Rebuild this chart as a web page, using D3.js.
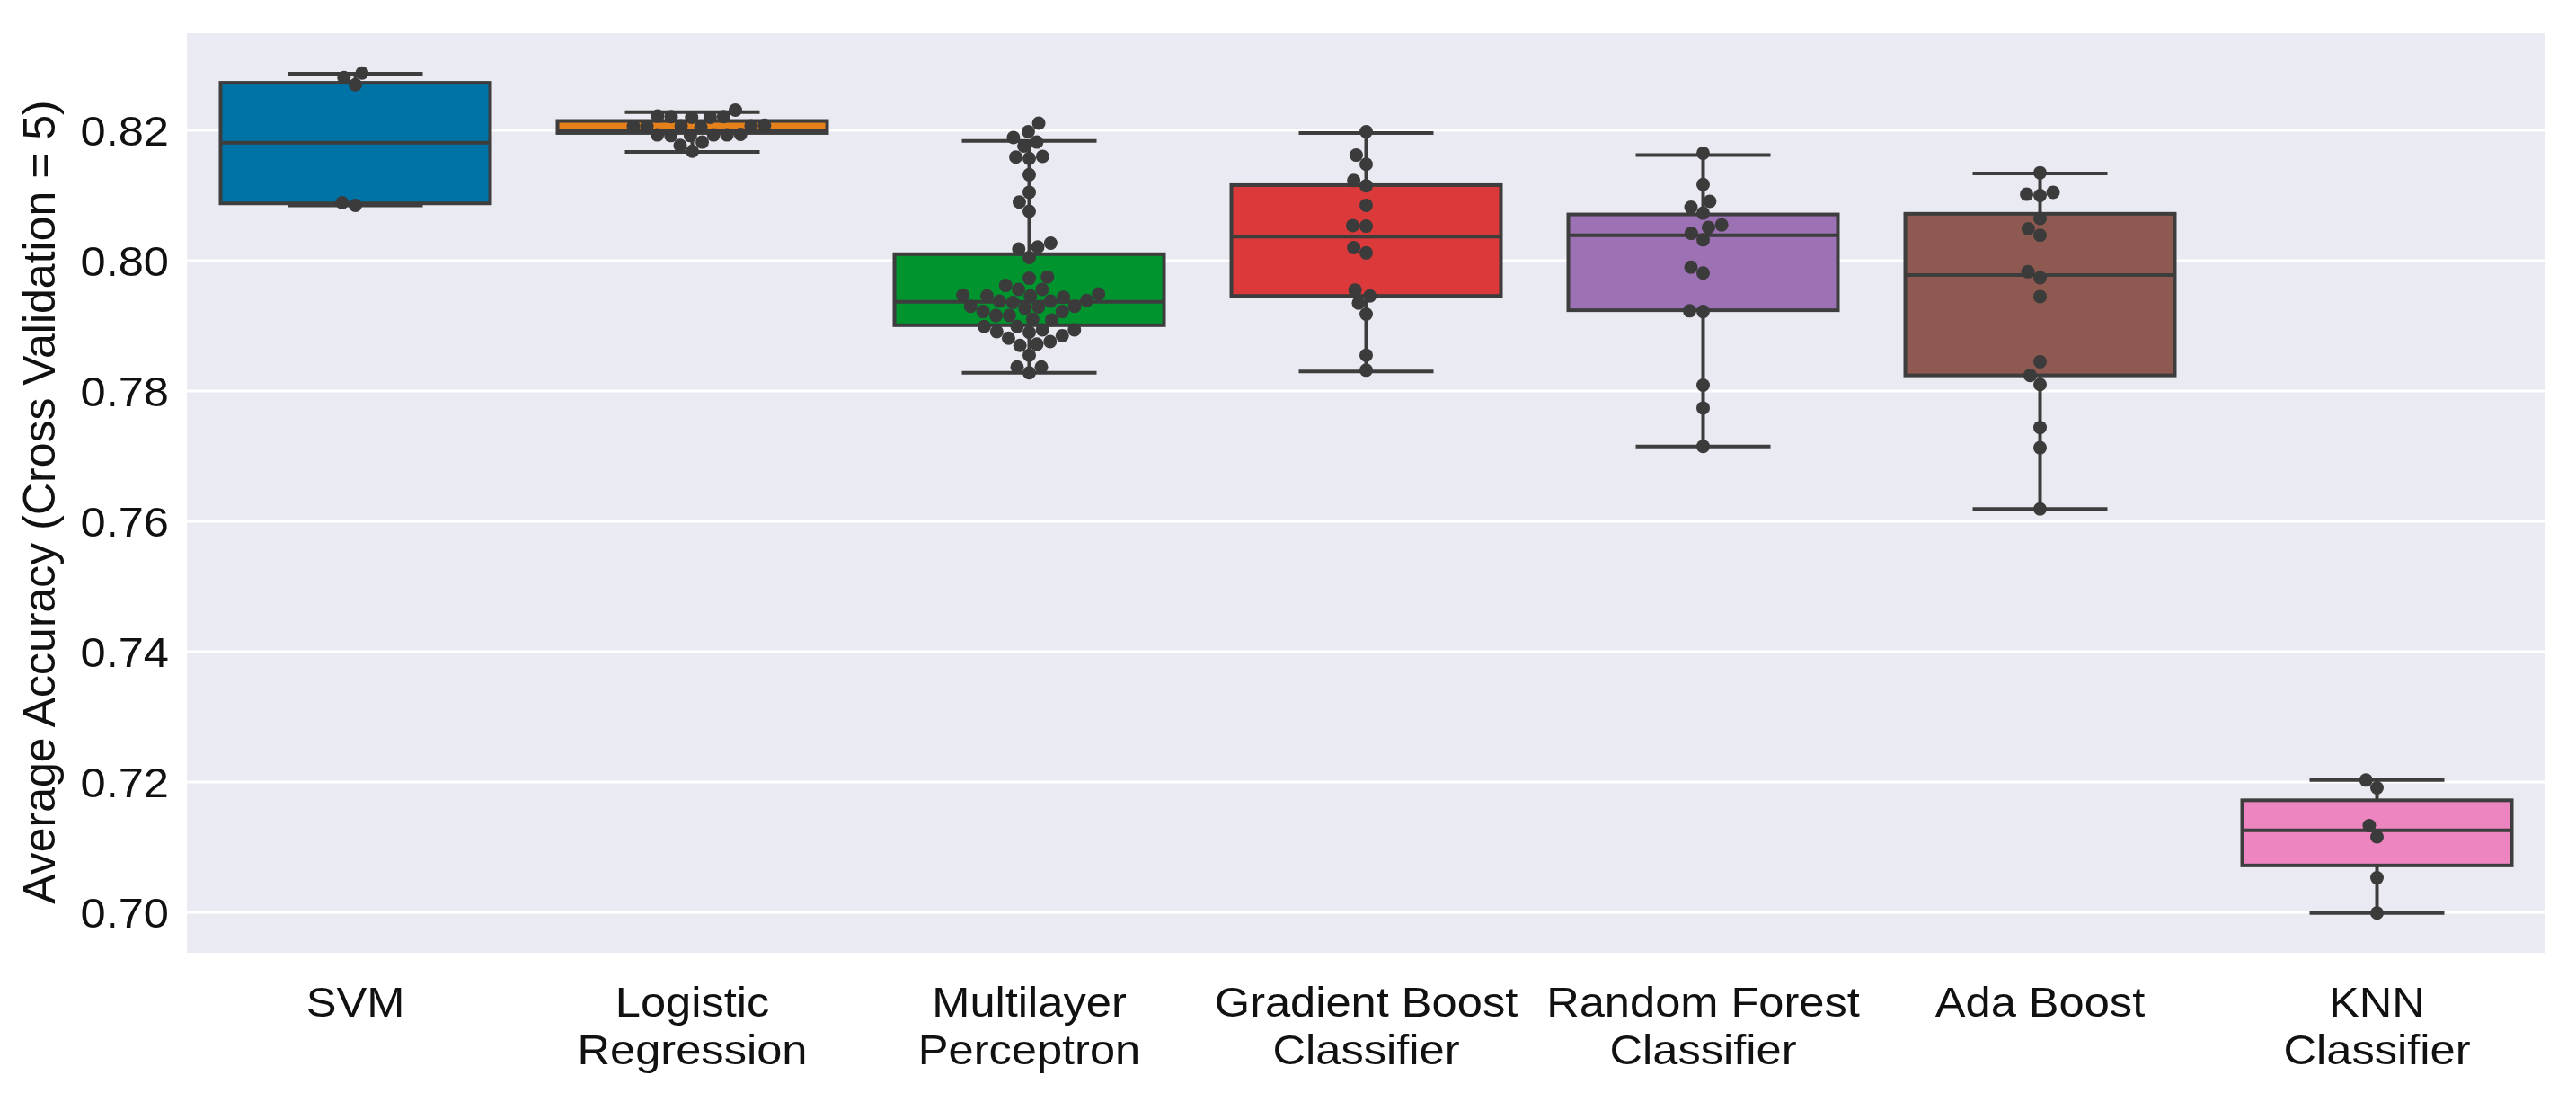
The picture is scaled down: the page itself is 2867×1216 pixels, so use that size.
<!DOCTYPE html>
<html>
<head>
<meta charset="utf-8">
<script src="https://cdn.jsdelivr.net/npm/d3@7"></script>
<style>
  html, body { margin: 0; padding: 0; background: #ffffff; }
  svg { display: block; }
  text { font-family: "Liberation Sans", Arial, Helvetica, sans-serif; fill: #111111; }
</style>
</head>
<body>
<svg id="chart" width="2867" height="1216"></svg>
<script>
// ---------------- data ----------------
const categories = ["SVM", "Logistic Regression", "Multilayer Perceptron",
  "Gradient Boost Classifier", "Random Forest Classifier", "Ada Boost", "KNN Classifier"];
const tickLabelLines = [["SVM"], ["Logistic", "Regression"], ["Multilayer", "Perceptron"],
  ["Gradient Boost", "Classifier"], ["Random Forest", "Classifier"], ["Ada Boost"], ["KNN", "Classifier"]];
const yTicks = [0.70, 0.72, 0.74, 0.76, 0.78, 0.80, 0.82];
const yLabel = "Average Accuracy (Cross Validation = 5)";

// box statistics per category
const whiskerLow  = [0.8085, 0.8167, 0.7828, 0.7830, 0.7715, 0.7619, 0.6999];
const q1          = [0.8088, 0.8196, 0.7901, 0.7946, 0.7924, 0.7824, 0.7072];
const median      = [0.8181, 0.8200, 0.7937, 0.8037, 0.8039, 0.7978, 0.7126];
const q3          = [0.8273, 0.82145, 0.8010, 0.8116, 0.8071, 0.8072, 0.7172];
const whiskerHigh = [0.8287, 0.8228, 0.8184, 0.8196, 0.8162, 0.8134, 0.7203];

// individual cross-validation scores (swarm points)
const svmScores = [0.8288, 0.8281, 0.8270, 0.8089, 0.8085];
const lrScores = [0.8231, 0.8222, 0.8221, 0.8221, 0.8220, 0.8220,
  0.8208, 0.8207, 0.8207, 0.8206, 0.8206, 0.8205,
  0.8194, 0.8193, 0.8193, 0.8193, 0.8192, 0.8192, 0.8182, 0.8177, 0.8168];
const mlpScores = [0.8211, 0.8198, 0.8189, 0.8182, 0.8176, 0.8159, 0.8157, 0.8160, 0.8132,
  0.8105, 0.8090, 0.8076, 0.8018, 0.8021, 0.8027, 0.8005,
  0.7973, 0.7975, 0.7962, 0.7956, 0.7956, 0.7949, 0.7947, 0.7946, 0.7946, 0.7939, 0.7944,
  0.7938, 0.7936, 0.7938, 0.7930, 0.7929, 0.7930, 0.7927, 0.7922, 0.7922, 0.7916, 0.7916,
  0.7910, 0.7909, 0.7899, 0.7899, 0.7891, 0.7894, 0.7894, 0.7890, 0.7885, 0.7881,
  0.7870, 0.7872, 0.7876, 0.7855, 0.7837, 0.7837, 0.7828];
const gbScores = [0.8198, 0.8162, 0.8148, 0.8123, 0.8115, 0.8085, 0.8054, 0.8053,
  0.8020, 0.8012, 0.7955, 0.7946, 0.7935, 0.7918, 0.7855, 0.7832];
const rfScores = [0.8165, 0.8117, 0.8091, 0.8082, 0.8073, 0.8055, 0.8051, 0.8042,
  0.8032, 0.7990, 0.7981, 0.7923, 0.7922, 0.7809, 0.7774, 0.7715];
const adaScores = [0.8135, 0.8105, 0.8102, 0.8100, 0.8065, 0.8049, 0.8039, 0.7983,
  0.7974, 0.7945, 0.7845, 0.7824, 0.7810, 0.7744, 0.7713, 0.7619];
const knnScores = [0.7203, 0.7191, 0.7133, 0.7116, 0.7053, 0.6999];
const scores = [svmScores, lrScores, mlpScores, gbScores, rfScores, adaScores, knnScores];

// ---------------- style ----------------
const palette = ["#0073a6", "#e6801a", "#00942f", "#dc3a3a", "#9d72b5", "#8d5950", "#ed85c0"];
const lineColor = "#3d3d3d";
const plotBg = "#e9eaf2";
const W = 2867, H = 1216;
const margin = { left: 208, right: W - 2833, top: 37, bottom: H - 1060 };

const svg = d3.select("#chart");
const x = d3.scaleBand().domain(categories).range([margin.left, W - margin.right]).padding(0);
const y = d3.scaleLinear().domain([0.6938, 0.8349]).range([H - margin.bottom, margin.top]);

// plot background
svg.append("rect")
  .attr("x", margin.left).attr("y", margin.top)
  .attr("width", W - margin.left - margin.right)
  .attr("height", H - margin.top - margin.bottom)
  .attr("fill", plotBg);

// gridlines
svg.append("g").selectAll("line").data(yTicks).join("line")
  .attr("x1", margin.left).attr("x2", W - margin.right)
  .attr("y1", d => y(d)).attr("y2", d => y(d))
  .attr("stroke", "#ffffff").attr("stroke-width", 3);

// y axis (labels only)
const yAxis = svg.append("g")
  .attr("transform", `translate(${margin.left},0)`)
  .call(d3.axisLeft(y).tickValues(yTicks).tickFormat(d3.format(".2f")).tickSize(0).tickPadding(20));
yAxis.select(".domain").remove();
yAxis.selectAll("text")
  .attr("font-size", 46)
  .attr("fill", "#111111")
  .attr("font-family", "Liberation Sans, Arial, sans-serif")
  .attr("dy", "0.36em")
  .each(function () {
    const t = d3.select(this);
    const xx = +t.attr("x");
    t.attr("x", null).attr("transform", `translate(${xx},0) scale(1.1,1)`);
  });

// y title
svg.append("text")
  .attr("transform", `translate(61, ${(margin.top + H - margin.bottom) / 2 + 10}) rotate(-90)`)
  .attr("text-anchor", "middle")
  .attr("font-size", 50)
  .text(yLabel);

// x labels
const xl = svg.append("g");
categories.forEach((c, i) => {
  const cx = x(c) + x.bandwidth() / 2;
  const t = xl.append("text")
    .attr("text-anchor", "middle")
    .attr("font-size", 46)
    .attr("transform", `translate(${cx},1131) scale(1.1,1)`);
  tickLabelLines[i].forEach((ln, j) => {
    t.append("tspan").attr("x", 0).attr("dy", j === 0 ? 0 : 53).text(ln);
  });
});

// boxes
const boxW = x.bandwidth() * 0.8;
const capW = boxW * 0.5;
const boxes = svg.append("g");
categories.forEach((c, i) => {
  const cx = x(c) + x.bandwidth() / 2;
  const g = boxes.append("g");
  g.append("line").attr("x1", cx).attr("x2", cx)
    .attr("y1", y(whiskerHigh[i])).attr("y2", y(q3[i]))
    .attr("stroke", lineColor).attr("stroke-width", 4);
  g.append("line").attr("x1", cx).attr("x2", cx)
    .attr("y1", y(q1[i])).attr("y2", y(whiskerLow[i]))
    .attr("stroke", lineColor).attr("stroke-width", 4);
  [whiskerHigh[i], whiskerLow[i]].forEach(v => {
    g.append("line").attr("x1", cx - capW / 2).attr("x2", cx + capW / 2)
      .attr("y1", y(v)).attr("y2", y(v))
      .attr("stroke", lineColor).attr("stroke-width", 4);
  });
  g.append("rect")
    .attr("x", cx - boxW / 2).attr("width", boxW)
    .attr("y", y(q3[i])).attr("height", Math.max(0.1, y(q1[i]) - y(q3[i])))
    .attr("fill", palette[i]).attr("stroke", lineColor).attr("stroke-width", 4);
  g.append("line").attr("x1", cx - boxW / 2).attr("x2", cx + boxW / 2)
    .attr("y1", y(median[i])).attr("y2", y(median[i]))
    .attr("stroke", lineColor).attr("stroke-width", 4);
});

// swarm layout (greedy beeswarm in pixel space)
const R = 7.5;
function swarm(values, cx) {
  const pts = values.map(v => ({ v, py: y(v) })).sort((a, b) => a.v - b.v);
  const placed = [];
  const D = 2 * R;
  pts.forEach(p => {
    const nb = placed.filter(q => Math.abs(q.py - p.py) < D);
    const cands = [cx];
    nb.forEach(q => {
      const dy = p.py - q.py;
      const dx = Math.sqrt(Math.max(0, D * D - dy * dy));
      cands.push(q.px - dx, q.px + dx);
    });
    cands.sort((a, b) => Math.abs(a - cx) - Math.abs(b - cx));
    let px = cx;
    for (const c of cands) {
      if (nb.every(q => (q.px - c) ** 2 + (q.py - p.py) ** 2 >= D * D - 0.01)) { px = c; break; }
    }
    p.px = px;
    placed.push(p);
  });
  return placed;
}

const dots = svg.append("g");
categories.forEach((c, i) => {
  const cx = x(c) + x.bandwidth() / 2;
  const pts = swarm(scores[i], cx);
  dots.selectAll(null).data(pts).join("circle")
    .attr("cx", d => d.px).attr("cy", d => d.py).attr("r", R)
    .attr("fill", "#3b3b3b");
});
</script>
</body>
</html>
